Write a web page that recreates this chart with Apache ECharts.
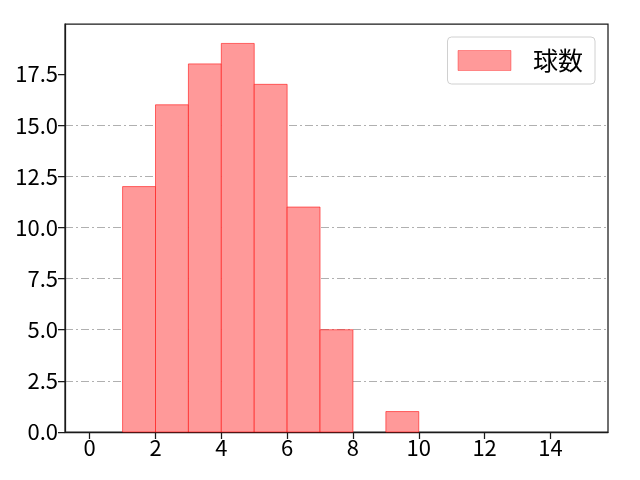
<!DOCTYPE html>
<html lang="ja">
<head>
    <meta charset="UTF-8">
    <title>球数</title>
    <script src="https://cdn.jsdelivr.net/npm/echarts@6/dist/echarts.min.js"></script>
</head>
<body style="margin: 0; background-color: #FFFFFF">
<div id="container" style="width: 640px; height: 480px"></div>
<script type="text/javascript">
    // ビンの境界と度数
    const binStarts = [1, 2, 3, 4, 5, 6, 7, 8, 9];
    const binEnds = [2, 3, 4, 5, 6, 7, 8, 9, 10];
    const counts = [12, 16, 18, 19, 17, 11, 5, 0, 1];
    const seriesName = '球数';
    // 目盛り
    const xTicks = [0, 2, 4, 6, 8, 10, 12, 14];
    const yTicks = [0, 2.5, 5, 7.5, 10, 12.5, 15, 17.5];

    const fontFamily = '"Noto Sans CJK JP", "DejaVu Sans", sans-serif';

    let data = [];
    for (let i = 0; i < counts.length; i++) {
        data.push([binStarts[i], binEnds[i], counts[i]]);
    }

    let myChart = echarts.init(document.getElementById('container'));
    let option = {
        animation: false,
        grid: {
            left: 65, right: 32, top: 24, bottom: 48,
            show: true,
            borderColor: '#1a1a1a',
            borderWidth: 1.25
        },
        legend: {
            right: 45,
            top: 37,
            data: [{name: seriesName, icon: 'rect'}],
            itemWidth: 53,
            itemHeight: 20,
            itemGap: 10,
            padding: [11, 12, 11, 10],
            borderColor: '#d0d0d0',
            borderWidth: 1,
            borderRadius: 4,
            itemStyle: {color: '#ff9999', borderColor: 'rgba(255,0,0,0.35)', borderWidth: 1},
            textStyle: {fontSize: 25, color: '#000', fontFamily: fontFamily, padding: [0, 0, 0, 17]}
        },
        xAxis: {
            type: 'value',
            min: -0.75,
            max: 15.75,
            splitLine: {show: false},
            axisLine: {onZero: false, lineStyle: {color: '#1a1a1a', width: 1.25}},
            axisTick: {length: 7, customValues: xTicks, lineStyle: {color: '#1a1a1a', width: 1.25}},
            axisLabel: {
                fontSize: 22, color: '#000', fontFamily: fontFamily, margin: 5,
                customValues: xTicks
            }
        },
        yAxis: {
            type: 'value',
            min: 0,
            max: 19.95,
            interval: 2.5,
            splitLine: {showMaxLine: false, lineStyle: {color: '#b0b0b0', width: 1, type: [8, 3, 2, 3]}},
            axisLine: {show: true, onZero: false, lineStyle: {color: '#1a1a1a', width: 1.25}},
            axisTick: {show: true, length: 7, customValues: yTicks, lineStyle: {color: '#1a1a1a', width: 1.25}},
            axisLabel: {
                fontSize: 22, color: '#000', fontFamily: fontFamily, margin: 7,
                customValues: yTicks,
                formatter: function (v) { return v.toFixed(1); }
            }
        },
        series: [{
            name: seriesName,
            type: 'custom',
            itemStyle: {color: '#ff9999', borderColor: 'rgba(255,0,0,0.55)', borderWidth: 1},
            encode: {x: [0, 1], y: 2},
            data: data,
            renderItem: function (params, api) {
                if (api.value(2) <= 0) {
                    return null;
                }
                let p0 = api.coord([api.value(0), 0]);
                let p1 = api.coord([api.value(1), api.value(2)]);
                return {
                    type: 'rect',
                    shape: {x: p0[0], y: p1[1], width: p1[0] - p0[0], height: p0[1] - p1[1]},
                    style: {fill: '#ff9999', stroke: 'rgba(255,0,0,0.55)', lineWidth: 1}
                };
            }
        }]
    };
    myChart.setOption(option);
</script>
</body>
</html>
